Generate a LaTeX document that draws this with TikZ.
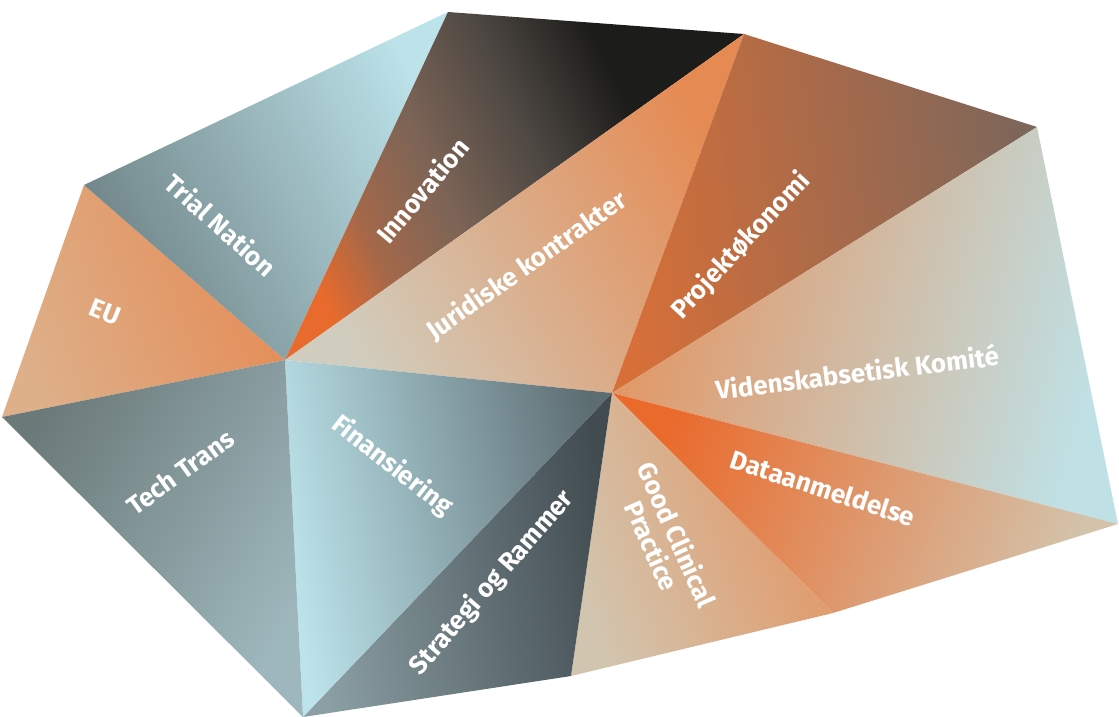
\documentclass[tikz,border=0pt]{standalone}
\usepackage{fontspec}
\newfontfamily\lblfont{Fira Sans}
\usetikzlibrary{positioning}

\definecolor{euA}{HTML}{DDB08A}
\definecolor{euB}{HTML}{E58C56}
\definecolor{trA}{HTML}{6F8386}
\definecolor{trB}{HTML}{BCE2EA}
\definecolor{inA}{HTML}{E86A2C}
\definecolor{inR}{HTML}{A3684A}
\definecolor{inM}{HTML}{7C6456}
\definecolor{inD}{HTML}{4E4843}
\definecolor{inB}{HTML}{1C1C1A}
\definecolor{juA}{HTML}{D1CDBE}
\definecolor{juB}{HTML}{E58A52}
\definecolor{prA}{HTML}{D76F38}
\definecolor{prB}{HTML}{7D665A}
\definecolor{viA}{HTML}{E39562}
\definecolor{viM}{HTML}{D4C4AA}
\definecolor{viB}{HTML}{BFE1E6}
\definecolor{daA}{HTML}{EA6A2B}
\definecolor{daB}{HTML}{D3C3AB}
\definecolor{gcA}{HTML}{D2C5AF}
\definecolor{gcB}{HTML}{E39563}
\definecolor{stA}{HTML}{8B9FA4}
\definecolor{stB}{HTML}{414B50}
\definecolor{fiA}{HTML}{BDE4EC}
\definecolor{fiB}{HTML}{5C6C71}
\definecolor{ttA}{HTML}{6B7979}
\definecolor{ttB}{HTML}{9EB7BC}

% orange -> brown -> black, bottom stop is the far end
\pgfdeclareverticalshading{innovshade}{100bp}{color(0bp)=(inB); color(34bp)=(inB);
  color(46bp)=(inD); color(58bp)=(inM); color(68bp)=(inR); color(76bp)=(inA); color(100bp)=(inA)}

\begin{document}
\begin{tikzpicture}[x=1pt, y=1pt,
  lbl/.style={text=white, font=\lblfont\bfseries\fontsize{26}{27}\selectfont, align=center, inner sep=0pt}]
\useasboundingbox (0,0) rectangle (1119,-717);

% hubs and rim
\coordinate (a) at (285,-360);
\coordinate (b) at (612,-393);
\coordinate (p1) at (2,-417);
\coordinate (p2) at (84,-185);
\coordinate (p3) at (448,-12);
\coordinate (p4) at (744,-34);
\coordinate (p5) at (1037,-127);
\coordinate (p6) at (1118,-524);
\coordinate (p7) at (833,-613);
\coordinate (p8) at (571,-676);
\coordinate (p9) at (303,-717);

% facets (shading angle = direction + 90)
\shade[left color=euA, right color=euB, shading angle=110] (p1) -- (p2) -- (a) -- cycle;
\shade[left color=trA, right color=trB, shading angle=115] (p2) -- (p3) -- (a) -- cycle;
\shade[shading=innovshade, shading angle=115] (p3) -- (p4) -- (a) -- cycle;
\shade[left color=juA, right color=juB, shading angle=120] (a) -- (p4) -- (b) -- cycle;
\shade[left color=prA, right color=prB, shading angle=98] (p4) -- (p5) -- (b) -- cycle;
\shade[left color=viA, middle color=viM, right color=viB, shading angle=75] (p5) -- (p6) -- (b) -- cycle;
\shade[left color=daA, right color=daB, shading angle=70] (b) -- (p6) -- (p7) -- cycle;
\shade[left color=gcA, right color=gcB, shading angle=110] (b) -- (p7) -- (p8) -- cycle;
\shade[left color=stA, right color=stB, shading angle=100] (b) -- (p8) -- (p9) -- cycle;
\shade[left color=fiA, right color=fiB, shading angle=100] (a) -- (b) -- (p9) -- cycle;
\shade[left color=ttA, right color=ttB, shading angle=60] (p1) -- (a) -- (p9) -- cycle;

% labels
\node[lbl, rotate=-22] (eu) at (105,-312) {EU};
\node[lbl, rotate=-42] (trial) at (221,-225) {Trial Nation};
\node[lbl, rotate=50] (innov) at (422,-190) {Innovation};
\node[lbl, rotate=35] (jurid) at (527,-266) {Juridiske kontrakter};
\node[lbl, rotate=47] (projekt) at (741,-246) {Projektøkonomi};
\node[lbl, rotate=7] (viden) at (857,-372) {Videnskabsetisk Komité};
\node[lbl, rotate=-18] (data) at (823,-488) {Dataanmeldelse};
\node[lbl, rotate=-66] (gcp) at (665,-540) {Good Clinical\\Practice};
\node[lbl, rotate=36] (tech) at (180,-472) {Tech Trans};
\node[lbl, rotate=-38] (finans) at (392,-466) {Finansiering};
\node[lbl, rotate=49] (strat) at (492,-583) {Strategi og Rammer};
\end{tikzpicture}
\end{document}
